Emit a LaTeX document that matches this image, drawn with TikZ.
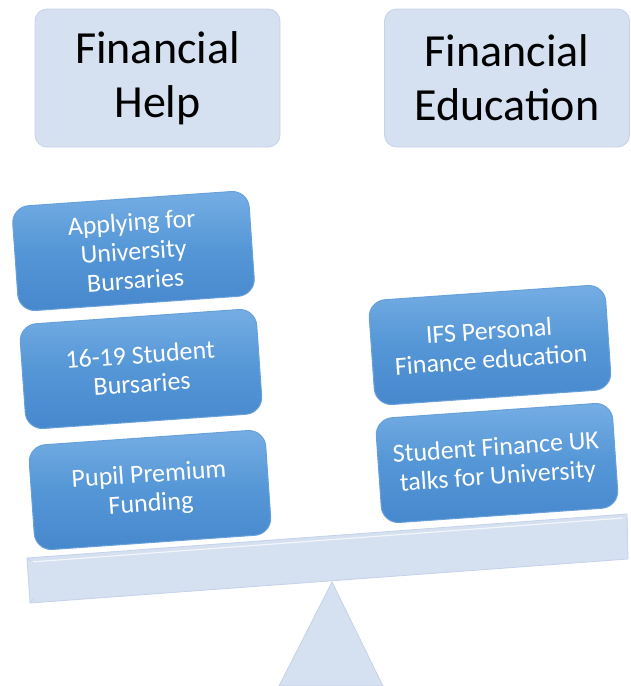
\documentclass[tikz,border=0pt]{standalone}
\usepackage{fontspec}
\setmainfont{Carlito}
\definecolor{paleblue}{RGB}{213,224,240}
\definecolor{paleedge}{RGB}{196,210,234}
\definecolor{boxtop}{RGB}{118,174,228}
\definecolor{boxmid}{RGB}{84,150,214}
\definecolor{boxbot}{RGB}{70,136,204}
\definecolor{boxedge}{RGB}{104,160,218}
\tikzset{
  headbox/.style={draw=paleedge, line width=0.8pt, fill=paleblue, rounded corners=12pt,
    minimum width=245pt, minimum height=138pt, align=center, inner sep=0pt,
    font=\fontsize{46}{54}\selectfont, text=black},
  itembox/.style={draw=boxedge, line width=1pt, top color=boxtop, bottom color=boxbot, middle color=boxmid,
    rounded corners=17pt, minimum width=237pt, minimum height=105pt, rotate=4,
    align=center, inner sep=0pt, font=\fontsize{26}{29}\selectfont, text=white},
  palefill/.style={fill=paleblue, draw=paleedge, line width=0.8pt, line join=miter}
}
\begin{document}
\begin{tikzpicture}[x=1pt,y=-1pt]
\useasboundingbox (0,0) rectangle (630,686);
% headings
\node[headbox] (help) at (157.5,78) {Financial\\Help};
\node[headbox] (edu) at (507,78) {Financial\\Education};
% fulcrum
\draw[palefill] (332,582) -- (383,686) -- (279,686) -- cycle;
% beam
\draw[palefill] (27,558) -- (627,514) -- (628,559) -- (30,603) -- cycle;
\draw[white, line width=1.2pt, opacity=0.7] (31,562) -- (623,518);
\draw[paleedge, line width=0.6pt] (27,558) -- (33,563) (30,603) -- (34,598);
% left pan items
\node[itembox] (b1) at (133.5,251) {Applying for\\University\\Bursaries};
\node[itembox] (b2) at (141,369) {16-19 Student\\Bursaries};
\node[itembox] (b3) at (150,490) {Pupil Premium\\Funding};
% right pan items
\node[itembox] (r1) at (490,345) {IFS Personal\\Finance education};
\node[itembox] (r2) at (497,463) {Student Finance UK\\talks for University};
\end{tikzpicture}
\end{document}
